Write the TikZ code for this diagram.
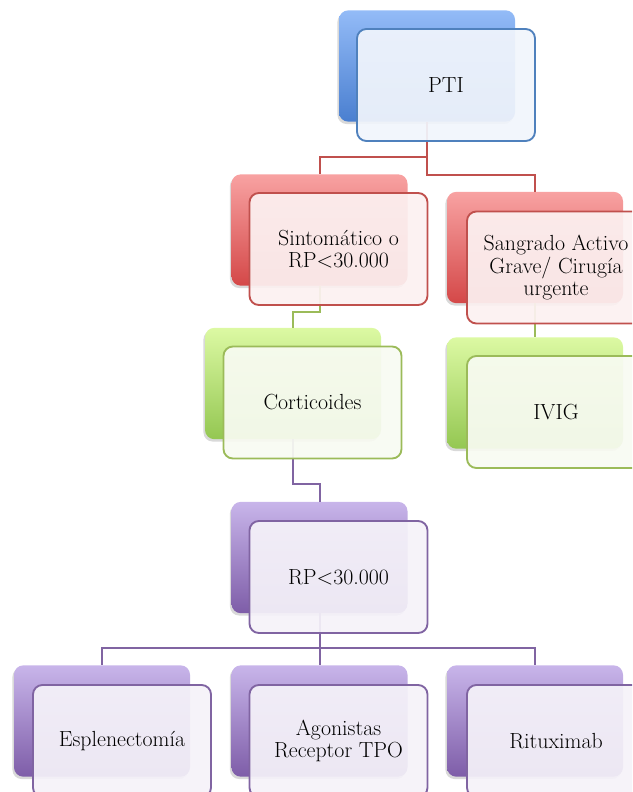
\documentclass[tikz,border=0pt]{standalone}
\usetikzlibrary{shadows,calc}
\definecolor{bT}{HTML}{93BBF7}\definecolor{bB}{HTML}{4A7FD0}\definecolor{bL}{HTML}{4F81BD}\definecolor{bF}{HTML}{F1F5FC}
\definecolor{rT}{HTML}{F8A2A2}\definecolor{rB}{HTML}{D44848}\definecolor{rL}{HTML}{C0504D}\definecolor{rF}{HTML}{FCF1F1}
\definecolor{gT}{HTML}{DCF9A3}\definecolor{gB}{HTML}{94C752}\definecolor{gL}{HTML}{9BBB59}\definecolor{gF}{HTML}{F8FBF2}
\definecolor{pT}{HTML}{C8B5EA}\definecolor{pB}{HTML}{7E5DA8}\definecolor{pL}{HTML}{8064A2}\definecolor{pF}{HTML}{F5F2F9}
\tikzset{
  backbox/.style n args={2}{rounded corners=7pt, minimum width=132pt, minimum height=83.5pt, inner sep=0pt,
     top color=#1, bottom color=#2, draw=none,
     drop shadow={shadow xshift=-1.2pt, shadow yshift=-1.8pt, opacity=0.15, fill=black}},
  frontbox/.style n args={2}{rounded corners=7pt, minimum width=133.5pt, minimum height=84pt, inner sep=2pt,
     draw=#1, line width=1.4pt, fill=#2, fill opacity=0.93, text opacity=1, align=center,
     font=\fontsize{16.4}{16.8}\selectfont},
  conn/.style={draw=#1, line width=1.5pt}
}
\begin{document}
\begin{tikzpicture}[x=0.75pt,y=-0.75pt]
\useasboundingbox (0,0) rectangle (632,792);
\clip (0,0) rectangle (632,792);
% back boxes
\node[backbox={bT}{bB}] (ptib) at (427,66) {};
\node[backbox={rT}{rB}] (sintb) at (319.5,230) {};
\node[backbox={rT}{rB}] (sangb) at (535,247.5) {};
\node[backbox={gT}{gB}] (cortb) at (293,383.5) {};
\node[backbox={gT}{gB}] (ivigb) at (535,393) {};
\node[backbox={pT}{pB}] (rpb) at (319.5,557.5) {};
\node[backbox={pT}{pB}] (espb) at (102,721) {};
\node[backbox={pT}{pB}] (agob) at (319.5,721) {};
\node[backbox={pT}{pB}] (ritb) at (535,721) {};
% connectors
\draw[conn=rL] (ptib.south) |- ($(sintb.north)+(0,-17)$) -- (sintb.north);
\draw[conn=rL] (ptib.south) |- ($(sangb.north)+(0,-17)$) -- (sangb.north);
\draw[conn=gL] (sintb.south) |- ($(cortb.north)+(0,-16)$) -- (cortb.north);
\draw[conn=gL] (sangb.south) -- (ivigb.north);
\draw[conn=pL] (cortb.south) |- ($(rpb.north)+(0,-18)$) -- (rpb.north);
\draw[conn=pL] (rpb.south) |- ($(espb.north)+(0,-17)$) -- (espb.north);
\draw[conn=pL] (rpb.south) -- (agob.north);
\draw[conn=pL] (rpb.south) |- ($(ritb.north)+(0,-17)$) -- (ritb.north);
% front boxes
\node[frontbox={bL}{bF}] (pti) at (446,85) {PTI};
\node[frontbox={rL}{rF}] (sint) at (338.5,249) {Sintomático o\\RP<30.000};
\node[frontbox={rL}{rF}] (sang) at (556,267.5) {Sangrado Activo\\Grave/ Cirugía\\urgente};
\node[frontbox={gL}{gF}] (cort) at (312.5,402.5) {Corticoides};
\node[frontbox={gL}{gF}] (ivig) at (556,412) {IVIG};
\node[frontbox={pL}{pF}] (rp) at (338.5,577) {RP<30.000};
\node[frontbox={pL}{pF}] (esp) at (122,741) {Esplenectomía};
\node[frontbox={pL}{pF}] (ago) at (338.5,741) {Agonistas\\Receptor TPO};
\node[frontbox={pL}{pF}] (rit) at (556,741) {Rituximab};
\end{tikzpicture}
\end{document}
